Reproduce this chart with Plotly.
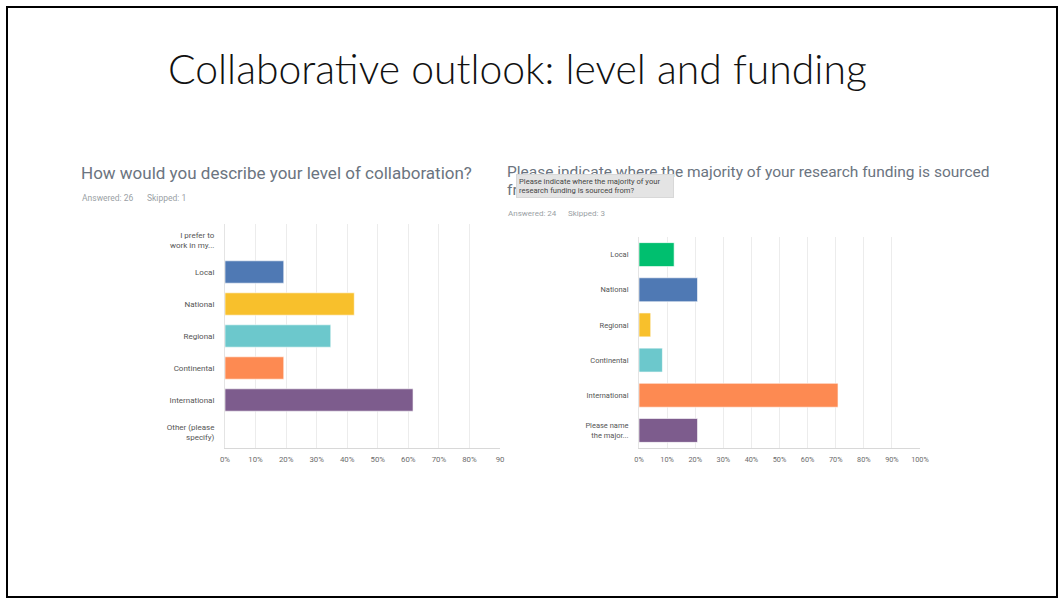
import plotly.graph_objects as go

W, H = 1059, 598

# ---- Data ----
left_categories = ["I prefer to<br>work in my...", "Local", "National", "Regional",
                   "Continental", "International", "Other (please<br>specify)"]
left_values = [0.0, 19.23, 42.31, 34.62, 19.23, 61.54, 0.0]
left_colors = ["#4f79b4", "#4f79b4", "#f8c02c", "#6cc8cc", "#fd8a52", "#7d5c8d", "#7d5c8d"]
left_ticks = [0, 10, 20, 30, 40, 50, 60, 70, 80, 90]
left_ticktext = ["0%", "10%", "20%", "30%", "40%", "50%", "60%", "70%", "80%", "90"]

right_categories = ["Local", "National", "Regional", "Continental", "International",
                    "Please name<br>the major..."]
right_values = [12.5, 20.83, 4.17, 8.33, 70.83, 20.83]
right_colors = ["#00bf6f", "#4f79b4", "#f8c02c", "#6cc8cc", "#fd8a52", "#7d5c8d"]
right_ticks = [0, 10, 20, 30, 40, 50, 60, 70, 80, 90, 100]
right_ticktext = ["0%", "10%", "20%", "30%", "40%", "50%", "60%", "70%", "80%", "90%", "100%"]

title_text = "Collaborative outlook: level and funding"
left_question = "How would you describe your level of collaboration?"
right_question = "Please indicate where the majority of your research funding is sourced"
tooltip_text = "Please indicate where the majority of your<br>research funding is sourced from?"


def px(x):
    return x / W


def py(y):
    return 1 - y / H


fig = go.Figure()
fig.add_trace(go.Bar(
    x=left_values, y=left_categories, orientation="h",
    marker=dict(color=left_colors, line=dict(color="rgba(255,255,255,0.6)", width=1)),
    xaxis="x", yaxis="y", width=0.7, hoverinfo="skip"))
fig.add_trace(go.Bar(
    x=right_values, y=right_categories, orientation="h",
    marker=dict(color=right_colors, line=dict(color="rgba(255,255,255,0.6)", width=1)),
    xaxis="x2", yaxis="y2", width=0.68, hoverinfo="skip"))

common_x = dict(showgrid=True, gridcolor="#ececec", gridwidth=1, zeroline=False,
                showline=True, linecolor="#d8d8d8", linewidth=1, ticks="",
                fixedrange=True, ticklabelstandoff=4, automargin=False)
common_y = dict(autorange="reversed", showgrid=False, zeroline=False, showline=True,
                linecolor="#e4e4e4", linewidth=1, ticks="",
                ticklabelstandoff=8, fixedrange=True, automargin=False)

fig.update_layout(
    width=W, height=H, margin=dict(l=0, r=0, t=0, b=0, pad=0, autoexpand=False),
    autosize=False,
    paper_bgcolor="white", plot_bgcolor="white", showlegend=False,
    xaxis=dict(domain=[px(225), px(500)], range=[0, 90], tickvals=left_ticks,
               ticktext=left_ticktext, anchor="y",
               tickfont=dict(family="Roboto", size=7.8, color="#6b6b6b"), **common_x),
    yaxis=dict(domain=[py(448), py(224)], anchor="x",
               tickfont=dict(family="Roboto", size=8, color="#555555"), **common_y),
    xaxis2=dict(domain=[px(639), px(920)], range=[0, 100], tickvals=right_ticks,
                ticktext=right_ticktext, anchor="y2",
                tickfont=dict(family="Roboto", size=7.3, color="#6b6b6b"), **common_x),
    yaxis2=dict(domain=[py(448), py(237)], anchor="x2",
                tickfont=dict(family="Roboto", size=7.5, color="#555555"), **common_y),
)

# Slide border
fig.add_shape(type="rect", xref="paper", yref="paper",
              x0=px(7), x1=px(1057), y0=py(597), y1=py(7),
              line=dict(color="black", width=2), fillcolor="rgba(0,0,0,0)")

small = dict(family="Roboto", size=8.5, color="#9a9fa5")
ann = []
ann.append(dict(text=title_text, x=px(517), y=py(68), xref="paper", yref="paper",
                xanchor="center", yanchor="middle", showarrow=False,
                font=dict(family="Lato", size=40.9, color="#111111", weight=300)))
ann.append(dict(text=left_question, x=px(79), y=py(173), xref="paper", yref="paper",
                xanchor="left", yanchor="middle", showarrow=False,
                font=dict(family="Roboto", size=17.0, color="#6b7480")))
ann.append(dict(text="Answered: 26", x=px(80), y=py(198), xref="paper", yref="paper",
                xanchor="left", yanchor="middle", showarrow=False, font=small))
ann.append(dict(text="Skipped: 1", x=px(145), y=py(198), xref="paper", yref="paper",
                xanchor="left", yanchor="middle", showarrow=False, font=small))
ann.append(dict(text=right_question, x=px(505), y=py(172), xref="paper", yref="paper",
                xanchor="left", yanchor="middle", showarrow=False,
                font=dict(family="Roboto", size=15.5, color="#6b7480")))
ann.append(dict(text="fr", x=px(505), y=py(190), xref="paper", yref="paper",
                xanchor="left", yanchor="middle", showarrow=False,
                font=dict(family="Roboto", size=15.5, color="#6b7480")))
ann.append(dict(text=tooltip_text, x=px(516), y=py(186), xref="paper", yref="paper",
                xanchor="left", yanchor="middle", showarrow=False, align="left",
                width=152, height=18, borderpad=2, bgcolor="#e4e4e4",
                bordercolor="#d8d8d8", borderwidth=1,
                font=dict(family="Roboto", size=7.6, color="#444444")))
ann.append(dict(text="Answered: 24", x=px(506), y=py(213), xref="paper", yref="paper",
                xanchor="left", yanchor="middle", showarrow=False,
                font=dict(family="Roboto", size=8, color="#9a9fa5")))
ann.append(dict(text="Skipped: 3", x=px(566), y=py(213), xref="paper", yref="paper",
                xanchor="left", yanchor="middle", showarrow=False,
                font=dict(family="Roboto", size=8, color="#9a9fa5")))
fig.update_layout(annotations=ann)

# Remove the default 8px page margin so the 1059x598 figure fills the window exactly
page_fix = """
document.body.style.margin = '0';
"""
fig.write_html("out.html", post_script=page_fix)
